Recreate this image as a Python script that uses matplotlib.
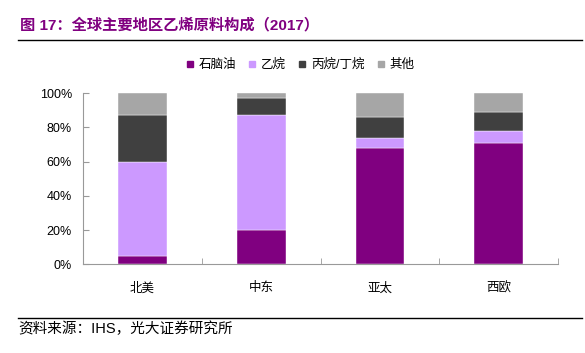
import matplotlib.pyplot as plt
import numpy as np
from matplotlib.lines import Line2D

plt.rcParams['font.family'] = ['Liberation Sans', 'Noto Sans CJK SC', 'DejaVu Sans']

# 数据
regions = ['北美', '中东', '亚太', '西欧']
series_names = ['石脑油', '乙烷', '丙烷/丁烷', '其他']
naphtha = [5, 20, 68, 71]
ethane = [55, 67, 6, 7]
lpg = [27, 10, 12, 11]
others = [13, 3, 14, 11]
colors = ['#800080', '#CC99FF', '#404040', '#A6A6A6']

fig = plt.figure(figsize=(5.85, 3.53), dpi=100)
ax = fig.add_axes([0.142, 0.251, 0.812, 0.485])

x = np.arange(len(regions))
bottom = np.zeros(len(regions))
for vals, name, c in zip([naphtha, ethane, lpg, others], series_names, colors):
    ax.bar(x, vals, width=0.41, bottom=bottom, color=c, label=name,
           edgecolor='white', linewidth=0.3)
    bottom += np.array(vals)

ax.set_xlim(-0.5, len(regions) - 0.5)
ax.set_ylim(0, 100)
ax.set_yticks(range(0, 101, 20))
ax.set_yticklabels([f'{v}%' for v in range(0, 101, 20)], fontsize=9)
ax.set_xticks(x)
ax.set_xticklabels(regions, fontsize=9)
ax.set_xticks(np.arange(0.5, len(regions)), minor=True)
ax.tick_params(axis='x', which='major', length=0, pad=13)
ax.tick_params(axis='x', which='minor', length=4, direction='in', color='#999999')
ax.tick_params(axis='y', length=4, direction='in', color='#999999', pad=8)
for s in ['top', 'right']:
    ax.spines[s].set_visible(False)
for s in ['left', 'bottom']:
    ax.spines[s].set_color('#999999')
    ax.spines[s].set_linewidth(0.8)

handles = [Line2D([], [], marker='s', linestyle='', color=c, markersize=5) for c in colors]
fig.legend(handles, series_names, loc='center', bbox_to_anchor=(0.513, 0.816), ncol=4,
           frameon=False, fontsize=9, handlelength=0.6, handletextpad=0.4,
           columnspacing=1.0)

# 标题与来源
fig.text(0.034, 0.928, '图 17：全球主要地区乙烯原料构成（2017）', fontsize=11,
         fontweight='bold', color='#800080', ha='left', va='center')
fig.add_artist(Line2D([0.031, 0.995], [0.887, 0.887], color='black', linewidth=1))
fig.add_artist(Line2D([0.031, 0.995], [0.099, 0.099], color='black', linewidth=1))
fig.text(0.032, 0.068, '资料来源：IHS，光大证券研究所', fontsize=10.5, ha='left', va='center')

plt.savefig('out.png', dpi=100)
